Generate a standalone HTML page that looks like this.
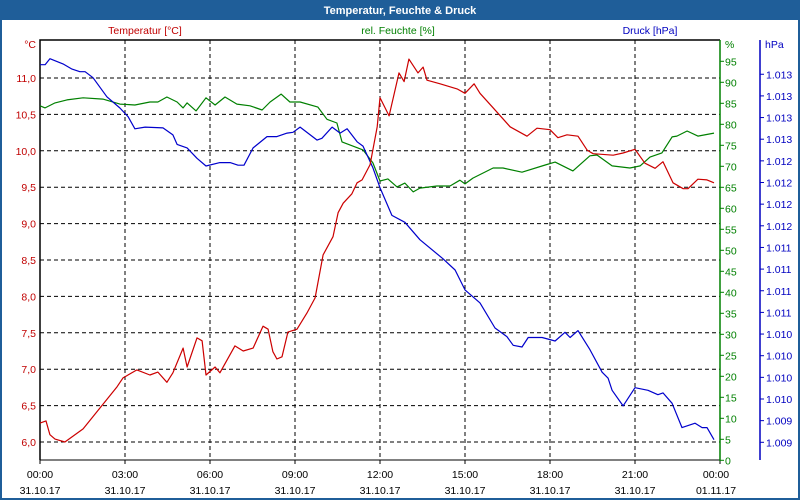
<!DOCTYPE html>
<html><head><meta charset="utf-8"><style>
body{margin:0;width:800px;height:500px;overflow:hidden;background:#fff;font-family:"Liberation Sans",sans-serif}
svg{display:block}
</style></head><body>
<svg id="chart" width="800" height="500" xmlns="http://www.w3.org/2000/svg" font-family="Liberation Sans, sans-serif" font-size="10.5">
<rect x="0" y="0" width="800" height="500" fill="#fff"/>
<rect x="0" y="0" width="800" height="20" fill="#1f5e99"/>
<rect x="0" y="0" width="2" height="500" fill="#1f5e99"/>
<rect x="798" y="0" width="2" height="500" fill="#1f5e99"/>
<rect x="0" y="498" width="800" height="2" fill="#1f5e99"/>
<text x="400" y="14" text-anchor="middle" fill="#fff" font-weight="bold" font-size="11">Temperatur, Feuchte &amp; Druck</text>
<text x="145" y="34" text-anchor="middle" fill="#c00000">Temperatur [°C]</text>
<text x="398" y="34" text-anchor="middle" fill="#008000">rel. Feuchte [%]</text>
<text x="650" y="34" text-anchor="middle" fill="#0000c0">Druck [hPa]</text>
<g id="grid"></g><g id="axes"></g><g id="series"></g>
</svg>
<script>
const tempHours=[0,0.21,0.35,0.53,0.88,1.52,2.72,2.93,3.42,3.88,4.16,4.48,4.69,5.05,5.19,5.54,5.72,5.86,6.18,6.35,6.88,7.17,7.52,7.87,8.05,8.22,8.36,8.54,8.75,9.07,9.42,9.71,9.99,10.34,10.52,10.7,11.01,11.19,11.37,11.65,11.9,12.0,12.32,12.67,12.85,13.02,13.34,13.52,13.66,14.12,14.72,15.0,15.32,15.53,15.99,16.59,17.19,17.54,18.0,18.28,18.6,18.99,19.31,19.52,20.23,20.58,21.0,21.35,21.71,21.99,22.34,22.7,22.87,23.22,23.54,23.79];
const tempValues=[6.26,6.29,6.10,6.04,6.00,6.18,6.76,6.88,6.99,6.92,6.96,6.82,6.95,7.29,7.03,7.43,7.39,6.92,7.03,6.95,7.32,7.25,7.29,7.59,7.55,7.24,7.14,7.17,7.51,7.55,7.77,7.98,8.57,8.82,9.15,9.28,9.41,9.56,9.60,9.81,10.33,10.73,10.48,11.07,10.95,11.26,11.07,11.15,10.97,10.92,10.85,10.79,10.92,10.79,10.59,10.33,10.20,10.31,10.29,10.18,10.22,10.20,10.01,9.96,9.94,9.97,10.02,9.83,9.76,9.85,9.56,9.48,9.48,9.61,9.60,9.56];
const humHours=[0,0.18,0.53,0.95,1.52,2.22,2.82,3.35,3.88,4.16,4.48,4.84,5.05,5.19,5.51,5.86,6.18,6.53,6.95,7.41,7.84,8.12,8.51,8.82,9.18,9.81,10.13,10.48,10.66,11.4,11.75,12.0,12.28,12.6,12.88,13.17,13.41,14.01,14.47,14.82,15.0,15.28,15.99,16.34,17.01,17.83,18.18,18.81,19.41,19.66,20.19,20.82,21.18,21.53,21.95,22.31,22.48,22.84,23.22,23.79];
const humValues=[84.4,83.9,85.1,85.8,86.3,86.0,84.8,84.6,85.3,85.3,86.5,85.3,83.9,85.1,83.2,86.3,84.6,86.5,84.8,84.4,83.4,85.3,87.2,85.3,85.3,84.1,81.2,80.3,75.8,73.9,70.8,66.5,67.0,65.1,66.0,63.9,64.8,65.3,65.3,66.7,65.8,67.2,69.6,69.6,68.6,70.3,71.0,68.9,72.5,72.7,70.1,69.6,70.1,72.2,73.2,77.0,77.2,78.4,77.2,77.9];
const presHours=[0,0.18,0.35,0.81,1.13,1.41,1.59,1.87,2.36,2.82,3.11,3.35,3.71,4.34,4.69,4.84,5.19,5.54,5.86,6.35,6.71,6.99,7.2,7.52,8.01,8.36,8.72,8.93,9.18,9.78,9.95,10.31,10.59,10.84,11.19,11.4,11.75,12.0,12.42,12.88,13.41,14.22,14.65,15.0,15.53,16.06,16.48,16.7,17.01,17.23,17.72,18.18,18.53,18.71,18.99,19.41,19.84,20.05,20.19,20.58,21.0,21.46,21.81,21.99,22.31,22.66,23.12,23.37,23.54,23.79];
const presValues=[1013.36,1013.36,1013.43,1013.37,1013.31,1013.28,1013.28,1013.21,1012.99,1012.86,1012.76,1012.62,1012.64,1012.63,1012.55,1012.44,1012.40,1012.28,1012.19,1012.23,1012.23,1012.20,1012.20,1012.40,1012.53,1012.53,1012.57,1012.58,1012.64,1012.49,1012.51,1012.64,1012.57,1012.62,1012.47,1012.42,1012.17,1011.94,1011.62,1011.54,1011.34,1011.12,1010.99,1010.76,1010.61,1010.32,1010.22,1010.12,1010.10,1010.21,1010.21,1010.17,1010.27,1010.21,1010.29,1010.07,1009.81,1009.74,1009.60,1009.42,1009.63,1009.60,1009.55,1009.57,1009.45,1009.17,1009.22,1009.17,1009.17,1009.03];
const tempTicks=[6.0,6.5,7.0,7.5,8.0,8.5,9.0,9.5,10.0,10.5,11.0];
const humTicks=[0,5,10,15,20,25,30,35,40,45,50,55,60,65,70,75,80,85,90,95];
const presTicks=[1009,1009.25,1009.5,1009.75,1010,1010.25,1010.5,1010.75,1011,1011.25,1011.5,1011.75,1012,1012.25,1012.5,1012.75,1013,1013.25];
const timeTicks=[0,3,6,9,12,15,18,21,24];
const timeLabels=["00:00","03:00","06:00","09:00","12:00","15:00","18:00","21:00","00:00"];
const dateLabels=["31.10.17","31.10.17","31.10.17","31.10.17","31.10.17","31.10.17","31.10.17","31.10.17","01.11.17"];

const X0=40,X1=720,YT=40,YB=460;
const xS=h=>X0+h*(X1-X0)/24;
const yT=v=>78+(11-v)*72.8;
const yH=v=>460.3-v*4.2;
const yP=v=>442.3-(v-1009)*86.6;
const NS="http://www.w3.org/2000/svg";
function mk(tag,attrs,parent){const e=document.createElementNS(NS,tag);for(const k in attrs)e.setAttribute(k,attrs[k]);parent.appendChild(e);return e;}
const grid=document.getElementById('grid'),axes=document.getElementById('axes'),series=document.getElementById('series');

tempTicks.forEach(v=>{
 const g=mk('line',{x1:X0,x2:X1,y1:yT(v),y2:yT(v),stroke:'#000','stroke-dasharray':'4,3','stroke-width':1},grid);
 
 
 const t=mk('text',{x:36,y:yT(v)+4,'text-anchor':'end',fill:'#c00000'},axes);
 t.textContent=v.toFixed(1).replace('.',',');
 
 
});
timeTicks.forEach((h,i)=>{
 if(h>0&&h<24){const g=mk('line',{x1:xS(h),x2:xS(h),y1:YT,y2:YB,stroke:'#000','stroke-dasharray':'4,3','stroke-width':1},grid);
 
 }
 const tk=mk('line',{x1:xS(h),x2:xS(h),y1:YB,y2:YB+4,stroke:'#000'},axes);
 
 
 const t=mk('text',{x:xS(h)-(i==8?4:0),y:478,'text-anchor':'middle',fill:'#000'},axes);
 t.textContent=timeLabels[i];
 
 
 const d=mk('text',{x:xS(h)-(i==8?4:0),y:494,'text-anchor':'middle',fill:'#000'},axes);
 d.textContent=dateLabels[i];
 
 
});
let a;
a=mk('path',{d:`M${X0} ${YB}V${YT}H${X1}`,stroke:'#000',fill:'none','stroke-width':1.5},axes);


a=mk('line',{x1:X0,x2:X1,y1:YB,y2:YB,stroke:'#000'},axes);


a=mk('line',{x1:X1,x2:X1,y1:YT,y2:YB+1,stroke:'#008000','stroke-width':1.5},axes);


a=mk('line',{x1:760,x2:760,y1:YT,y2:YB,stroke:'#0000c0','stroke-width':1.5},axes);


a=mk('text',{x:36,y:48,'text-anchor':'end',fill:'#c00000'},axes);a.textContent='°C';


a=mk('text',{x:725,y:48,fill:'#008000'},axes);a.textContent='%';


a=mk('text',{x:765,y:48,fill:'#0000c0'},axes);a.textContent='hPa';


humTicks.forEach(v=>{
 const tk=mk('line',{x1:X1,x2:X1+4,y1:yH(v),y2:yH(v),stroke:'#008000'},axes);
 
 
 const t=mk('text',{x:725,y:yH(v)+4,fill:'#008000'},axes);t.textContent=v;
 
 
});
presTicks.forEach(v=>{
 const tk=mk('line',{x1:760,x2:764,y1:yP(v),y2:yP(v),stroke:'#0000c0'},axes);
 
 
 const t=mk('text',{x:766,y:yP(v)+4,fill:'#0000c0'},axes);
 t.textContent=(Math.round(v)/1000).toFixed(3);
 
 
});
function line(hs,vs,yf,col,name){
 const d=hs.map((h,i)=>(i?'L':'M')+xS(h).toFixed(1)+' '+yf(vs[i]).toFixed(1)).join('');
 const p=mk('path',{d:d,stroke:col,fill:'none','stroke-width':1.2,'stroke-linejoin':'round'},series);
 
 
}
line(humHours,humValues,yH,'#008000','humidity-line');
line(presHours,presValues,yP,'#0000cc','pressure-line');
line(tempHours,tempValues,yT,'#cc0000','temperature-line');
</script>
</body></html>
